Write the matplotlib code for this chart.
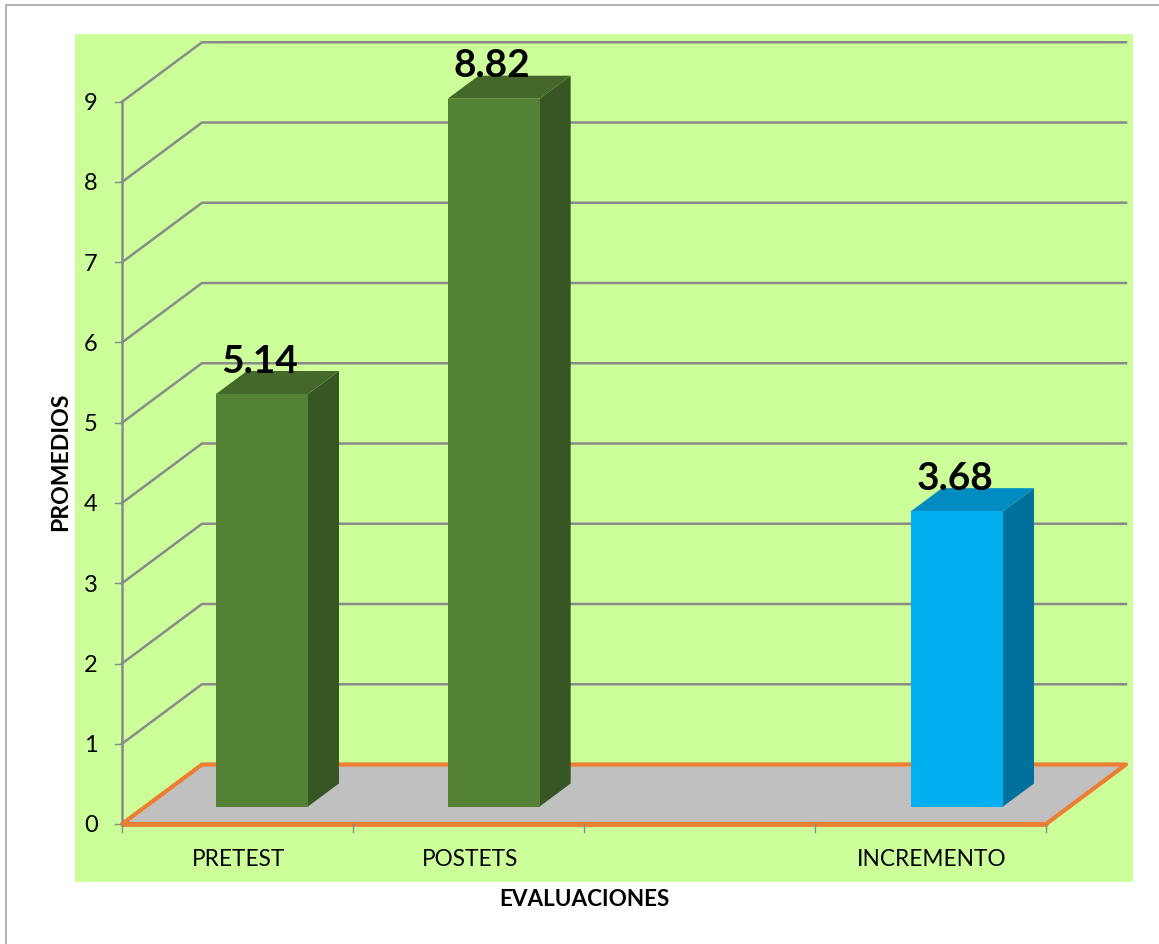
import matplotlib
matplotlib.use("Agg")
import matplotlib.pyplot as plt
from matplotlib.patches import Polygon, Rectangle

W, H = 1159, 944
categories = ["PRETEST", "POSTETS", "", "INCREMENTO"]
values = [5.14, 8.82, None, 3.68]
labels = ["5.14", "8.82", None, "3.68"]
front_colors = ["#548235", "#548235", None, "#00B0F0"]
side_colors = ["#375623", "#375623", None, "#00719C"]
top_colors = ["#43682A", "#43682A", None, "#008CC0"]
yticks = list(range(0, 10))

# pixel geometry of the oblique box
X0, XU = 122.0, 231.0     # px of x=0, px per category
Y0, YU = 824.0, 80.25     # px of y=0, px per unit
DX, DY = 80 / XU, 59.5 / YU  # depth offset in data units
BAR_OFF, BAR_W = 94 / XU, 92 / XU
BAR_STEP = 231.67 / XU
BAR_BASE = 17.5 / YU
BAR_DX, BAR_DY = 31 / XU, 23 / YU

plt.rcParams["font.family"] = ["Lato", "DejaVu Sans"]
fig = plt.figure(figsize=(W / 100, H / 100), dpi=100, facecolor="white")
ax = fig.add_axes([0, 0, 1, 1])
ax.set_xlim(-X0 / XU, (W - X0) / XU)
ax.set_ylim(-(H - Y0) / YU, Y0 / YU)
ax.axis("off")

def xp(px):
    return (px - X0) / XU

def yp(px):
    return (Y0 - px) / YU

n = len(categories)
# outer frame and plot background
ax.plot([xp(6), xp(6), xp(1159)], [yp(944), yp(5.5), yp(5.5)], color="#A6A6A6", lw=1.2, zorder=1)
ax.add_patch(Rectangle((xp(75), yp(882)), xp(1133) - xp(75), yp(34) - yp(882),
                       fc="#CCFF99", ec="none", zorder=1))

# floor
ax.add_patch(Polygon([(0, 0), (n, 0), (n + DX, DY), (DX, DY)], closed=True,
                     fc="#C0C0C0", ec="#ED7D31", lw=3.0, joinstyle="round", zorder=2))

# gridlines and y ticks
for v in yticks[1:]:
    ax.plot([0, DX, n + DX], [v, v + DY, v + DY], color="#8A8A8A", lw=1.8, zorder=2)
for v in yticks:
    ax.plot([xp(115), 0], [v, v], color="#8A8A8A", lw=1.0, zorder=2)
    ax.text(xp(91), v - 2 / YU, str(v), ha="center", va="center", fontsize=17, color="black")
ax.plot([0, 0], [0, yticks[-1]], color="#8A8A8A", lw=1.8, zorder=2)
ax.plot([0, n], [0, 0], color="#ED7D31", lw=3.4, zorder=3, solid_capstyle="round")
for i in range(n + 1):
    ax.plot([i, i], [0, -8 / YU], color="#8A8A8A", lw=1.0, zorder=4)

# bars
for i, (cat, val) in enumerate(zip(categories, values)):
    if cat:
        ax.text(i + 0.505, yp(859), cat, ha="center", va="center", fontsize=16.3, color="black")
    if val is None:
        continue
    x0 = BAR_OFF + i * BAR_STEP
    x1 = x0 + BAR_W
    y0, y1 = BAR_BASE, BAR_BASE + val
    ax.add_patch(Polygon([(x1, y0), (x1 + BAR_DX, y0 + BAR_DY), (x1 + BAR_DX, y1 + BAR_DY), (x1, y1)],
                         fc=side_colors[i], ec="none", zorder=5))
    ax.add_patch(Polygon([(x0, y1), (x1, y1), (x1 + BAR_DX, y1 + BAR_DY), (x0 + BAR_DX, y1 + BAR_DY)],
                         fc=top_colors[i], ec="none", zorder=5))
    ax.add_patch(Rectangle((x0, y0), x1 - x0, y1 - y0, fc=front_colors[i], ec="none", zorder=6))
    ax.text((x0 + x1) / 2 - 2 / XU, y1 + 33 / YU, labels[i], ha="center", va="center",
            fontsize=28, fontweight="bold", color="black", zorder=7)

# axis titles
ax.text(xp(584), yp(899), "EVALUACIONES", ha="center", va="center", fontsize=16.2, fontweight="bold")
ax.text(xp(61), yp(462), "PROMEDIOS", ha="center", va="center", rotation=90, fontsize=16.6, fontweight="bold")

fig.savefig("out.png", dpi=100)
